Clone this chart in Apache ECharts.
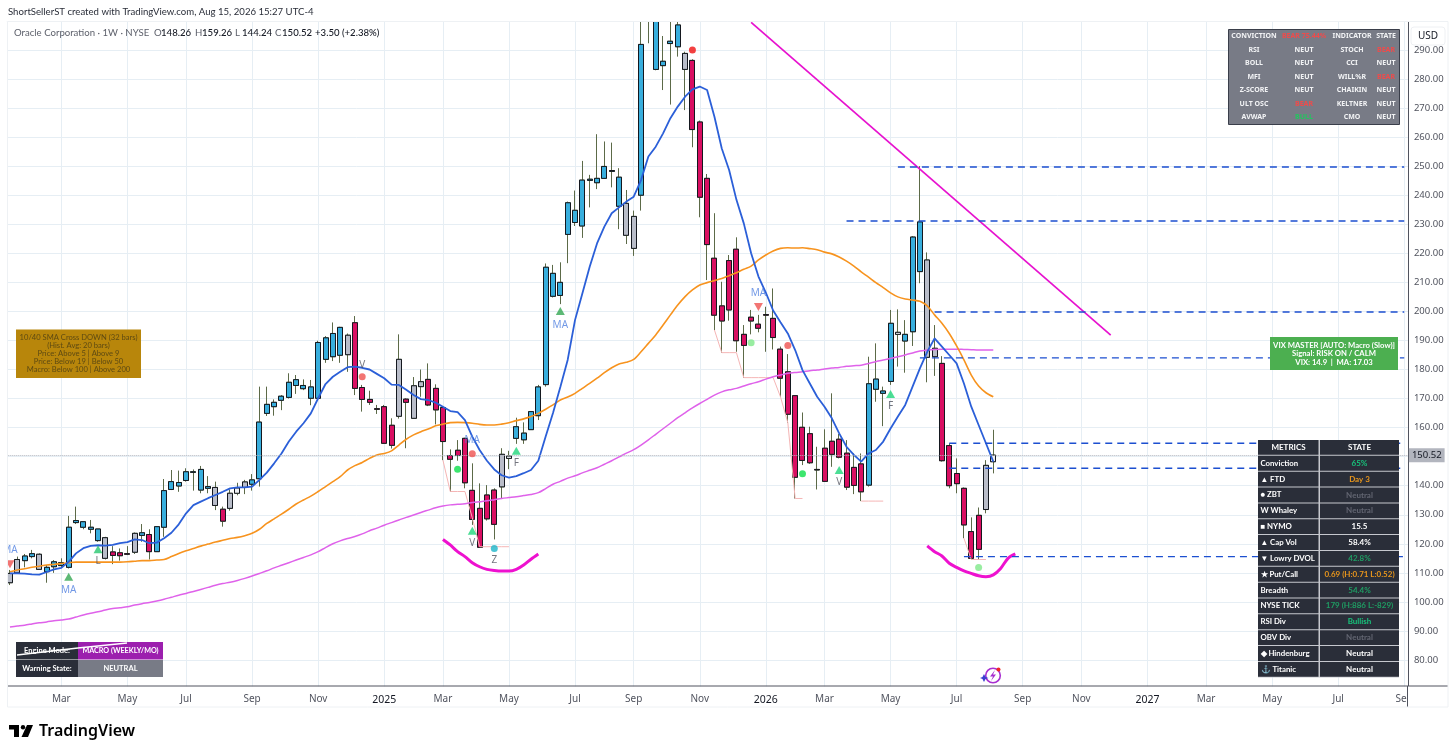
<!DOCTYPE html>
<html><head><meta charset="utf-8">
<style>html,body{margin:0;padding:0;background:#fff}#c{width:1456px;height:755px}</style>
<script src="https://cdn.jsdelivr.net/npm/echarts@6/dist/echarts.min.js"></script>
</head><body><div id="c"></div>
<script>
// ---------- data ----------
const firstWeek = '2024-01-15';
const weekCount = 191;
const tickWeeks = [7,16,24,33,42,51,59,68,77,85,94,103,111,120,129,138,146,155,163,172,181,190];
const tickNames = ['Mar','May','Jul','Sep','Nov','2025','Mar','May','Jul','Sep','Nov','2026','Mar','May','Jul','Sep','Nov','2027','Mar','May','Jul','Sep'];

const bodyTop = [
109.8,114.6,115.8,116.6,116.4,111.9,113.8,113.5,125.7,128,
127.6,125.7,125.1,122.1,117.2,116.9,116.6,123.6,123.8,123.2,
125.9,138.3,141.4,141.1,144.8,144.8,145.6,139.7,139.4,131.9,
137.4,139.2,141.3,142,161.9,168,168.7,170.8,175.6,176.5,
174.5,174,189.3,190.9,192.4,194.5,191.8,196.1,173.8,169.7,
166.5,167.2,160.8,183.5,169.8,174.4,175.8,176.6,173.5,166.9,
150.4,152.2,156.3,138.4,132.2,136.8,138.5,150.8,150.2,160.3,
158.1,165.5,174,215.2,213.1,210,237.4,234.8,245.2,245.5,
245.8,249.9,248.5,246.2,237.2,232.7,291.9,312,306,286.1,
293,298.6,288.8,286.4,265.2,245.8,218.3,201.9,217.5,221.4,
192.1,198,195.6,198.9,197.6,187,179.2,171,160.1,157.9,
145.6,152.9,155.3,156,151.2,146.3,147.5,175.1,176.7,172.6,
195.9,192.8,192.1,225.6,230.8,217.7,187.3,182.1,153.8,144.2,
139.1,124.2,129.8,147,150.52];
const bodyBottom = [
106.6,110,114.2,115.6,111.2,110.4,112.1,112.5,111.9,127.3,
125.7,125,121.1,115,116,115.9,116.4,117.1,122.9,117.3,
117.3,125.7,138.7,139.9,141.8,144.6,138.5,139.1,133.2,127.8,
132.2,137.4,139.4,140.5,142.4,164.9,167.2,169.4,170.4,174.5,
173.4,170.1,170.1,183.5,184.4,184.9,185.1,173.5,169.7,168.7,
166.3,154.6,153.9,163.9,168.7,163.2,174.1,167.8,166.1,155.2,
149.1,150.4,141,128.4,118.8,128.6,126.7,139.6,149.4,156.3,
155.8,159.3,164.1,174.8,205.2,205.5,226.5,230.6,229.4,245.1,
244.3,245.8,248.2,236.2,226.2,221.7,240,303,283.3,284.6,
292.2,291.1,283.3,262.6,239.3,223,198.7,196.7,200.5,189.9,
188.3,196.7,194.2,198.7,191,177,164.6,142.9,148.7,147.9,
145.4,141.5,150.8,149.8,139.5,140.1,137.9,140.2,173.2,171.8,
175.9,192.1,189.8,193,213.7,184.2,184.4,148.6,140,140.7,
126.5,115,118.1,131.8,148.26];
const highs = [
111,115.6,116.5,117.9,116.7,112.7,114.4,115,129.6,132.8,
127.6,128.2,125.1,122.4,119.2,118.4,119.2,123.9,126.8,125,
126.1,142.3,145.4,145.2,146,145.6,146.8,143.3,141.4,132.8,
138.7,141,142,144,174.1,174.1,169.7,171.2,178.7,178.1,
176.6,176.4,189.9,191.5,196.2,194.7,192.4,198.4,174.7,172.7,
167.8,167.8,163.2,192.1,170.1,177.4,180,182.1,174.9,167.2,
152.5,155.7,156.5,147.7,140.8,140.2,139.1,152.9,152,163.4,
161.8,165.7,174.7,216.5,216,216.9,237.8,241.6,251.8,247,
261,258.5,258.1,249.3,241.8,234.7,306,318,312,294.8,
300,300,289.4,286.8,265.7,247.3,233.8,210.2,219.4,225.5,
195.3,200.5,198.8,201.6,207.9,187.9,185.3,171.2,165.2,160.3,
153.4,159.4,171.8,157.8,155.7,151.1,151.1,184.4,189,174.1,
200.5,200.7,197,225.9,250,220.3,195.3,184.6,154.6,149.4,
139.4,129.1,132.5,148.8,159.26];
const lows = [
105.8,109.8,111.9,115,111,106.6,110,111.9,111.5,126.8,
125,123.6,120.7,114.6,113,114.2,116.1,116.5,120.7,114.6,
117.3,122.4,138.5,137.9,141.4,138.3,137.4,137.4,131.6,125.9,
131.4,136.7,137.1,138.3,139.7,164,164.1,166,170,171.6,
172.9,167.7,169.7,182.3,182.9,182.3,179.2,171.2,165.5,167.8,
164.7,154.4,152.8,163.1,152.9,163.1,170.6,167.4,161.1,148.8,
137.9,148.6,139.1,126.5,118.8,128,121.5,135.6,145.7,154.4,
154.4,159.2,162.6,174.1,204.8,202.5,216.6,229.4,225.3,235.8,
242.1,245.6,242.7,228.3,223.2,219.1,234.7,292.3,283,276.2,
271.2,287.7,269.3,256.5,232.4,210.8,193.6,185.8,196.8,186.1,
177.2,192.1,192.8,186.1,186.9,170.6,161.7,135.6,147.1,147.5,
138.7,141.3,146.5,149.4,138.5,137.1,134.7,139.7,168.9,160.5,
174.7,181,178.9,188.1,209.7,175.6,177.8,148.3,139.1,137.4,
121.9,114.6,114.6,130.5,144.24];
// B blue, R crimson, G grey, W pale
const candleKinds = ('GGBBGBBBBB'+'BBBGRRRGBR'+'BBBBBBBBGR'+'GWGBBBBBBB'+'BBBBBBGRRR'+
 'RRRGRGGRRR'+'RRRRRRRGWB'+'BBBBBBBBBB'+'BBBBGGBBBB'+'BBGRRRRRRR'+
 'RRRRRRRRRR'+'RRRRRRRBBB'+'BWBBBGGRRR'+'RRRGW').split('');

const ma10 = [
109.8,109.8,109.7,109.5,109.4,110.3,111.2,111.7,113.8,116.7,
118.5,119.3,119.5,119.4,119.6,120.2,120.6,121.5,121.3,120.2,
120.4,121.9,123.8,126.7,130.5,133.3,134.5,135.7,136.8,137.9,
139.1,139.4,139.4,139.7,142,144.5,147.7,151.1,155.2,158.6,
161.5,164.9,170.1,175,177.5,179.2,180.8,181,180.6,180,
178.5,177,174.8,174.7,173,171.2,169.8,169.5,168.6,167.2,
165.7,165.3,162.6,156.9,152.3,148.6,145.6,143.6,142.8,143.3,
144.3,145.4,148.6,156.9,165,174,183.3,197,206.2,215.4,
223.4,229.2,233.8,235.8,237.8,239.5,245.2,253.3,256.7,261.3,
266.5,270.5,273.9,276.4,277.4,276.2,267,256.1,248.7,238.4,
230.3,220,212,206.5,200.3,196.3,192.4,186.7,179.8,175.2,
170.6,167.2,163.2,158,153.4,150.6,148.3,151.1,152.3,155.2,
159.7,163.8,167.8,174.1,180.4,186.1,190.7,187.9,185,182.1,
175.2,167.2,160.9,154.6,148.3];
const ma40 = [
110.4,111,111.4,111.9,112.3,112.7,112.9,113.2,113.5,113.7,
113.7,113.7,113.7,113.7,113.7,113.7,113.8,114,114.2,114.2,
114.4,114.6,115.6,116.7,117.6,118.4,119.2,119.9,120.6,121.2,
121.8,122.2,122.8,123.6,125,127,128.6,130.2,131.9,133.7,
135.1,136.4,138,139.7,141.4,143.1,145.4,146.9,148,149.4,
150.6,151.1,152,154,156,157.5,158.6,159.5,160.6,161.2,
161.7,161.8,161.7,161.5,161.1,160.9,160.9,161.2,161.7,162.4,
163,163.8,164.9,166.3,167.8,169.5,170.5,171.8,173.5,175.2,
177,178.9,180.6,181.9,182.5,183.5,186.1,189,191.9,195.3,
198.8,202.2,205.1,207.4,209.1,209.9,210.6,211.3,212.3,213.3,
214.5,215.6,217.7,219.4,220.8,221.7,221.9,221.8,221.9,221.6,
221.2,220.4,219.8,218.7,217.3,215.6,213.6,211.8,209.9,208.2,
206.4,205,204.3,203.9,203.5,201.9,198.8,195.9,192.4,188.1,
183.3,178.1,174.3,172,170.6];
const ma200 = [
91.4,91.7,92,92.4,92.8,93.1,93.5,93.8,94.1,94.8,
95.5,96.1,96.6,97.2,97.7,98,98.3,98.9,99.4,99.8,
100.3,100.9,101.6,102.3,102.9,103.6,104.3,105,105.7,106.3,
106.8,107.4,108.1,108.9,109.8,110.7,111.7,112.6,113.5,114.4,
115.3,116.2,117.3,118.7,120,121,121.8,122.5,123.4,124.5,
125.4,126.4,127.3,128.2,129.1,129.9,130.8,131.6,132.4,133,
133.4,133.6,133.8,134.2,134.5,134.8,135.2,135.6,135.9,136.2,
136.6,137,137.6,139,140.5,141.5,142.6,143.4,144.4,145.3,
146.2,147.4,148.6,149.9,151.2,152.4,154,155.8,157.7,159.6,
161.5,163.4,165.1,166.8,168.3,169.7,171.2,172.3,173,173.5,
174.3,175.1,175.8,176.7,177.5,178.1,178.7,179,179.2,179.6,
179.8,180.2,180.5,180.7,181.1,181.3,181.5,182.1,182.7,183.3,
183.8,184.4,185,185.7,186.4,186.7,186.9,187,187,187,
186.9,186.8,186.7,186.7,186.7];

const swingLowWeeks  = [59,60,61,62,63,64,65,66,67,68, 96,97,98,99,100,101,102,103,104,105,106,107,108,116,117,118,119, 130,131,132,133];
const swingLowValues = [148.8,138,138,138,129,119,119,119,119,119, 193.6,185.8,185.8,185.8,177.2,177.2,177.2,177.2,177.2,170.6,161.7,135.6,135.6,134.7,134.7,134.7,134.7, 121.9,114.6,114.6,114.6];

const trendWeeks = [101,150];
const trendValues = [299.5,191.8];

const smileOneStart = 59;
const smileOne = [121.5,119.6,117.3,115.6,113.5,112.1,111.2,110.8,110.6,110.6,111.2,112.7,114.7,116.5];
const smileTwoStart = 125;
const smileTwo = [119.3,117.3,115.8,113.3,111.9,110.7,109.8,109,108.7,109.3,111.5,115,116.5];

const levelStarts = [121,114,126,124,128,128,130];
const levelValues = [249.7,231.1,199.8,184,154.6,146,115.6];
const lastClose = 150.52;

const upMarkWeeks  = [8,12,63,69,75,113,120];
const upMarkValues = [108.7,118.1,124.5,152,200.1,145.4,171.6];
const upMarkText   = ['MA','L','V','F','MA','V','F'];
const upMarkColors = ['#35a853','#28c76f','#1fd67a','#1fd67a','#35a853','#1fd67a','#1fd67a'];
const downMarkWeeks  = [0,102];
const downMarkValues = [113,201.5];
const dotWeeks  = [48,63,61,66,93,101,106,108,132];
const dotValues = [177.5,151,145.7,118.4,290,189.2,188.3,144.1,111.8];
const dotColors = ['#ef5350','#ef5350','#0ce04a','#1cb5c9','#f01010','#7fe88a','#ef5350','#0ce04a','#7fe88a'];
const dotText   = ['V','MA','','Z','','','','',''];

const gaugeRows = [
 ['CONVICTION','BEAR 75.44%','INDICATOR','STATE'],
 ['RSI','NEUT','STOCH','BEAR'],
 ['BOLL','NEUT','CCI','NEUT'],
 ['MFI','NEUT','WILL%R','BEAR'],
 ['Z-SCORE','NEUT','CHAIKIN','NEUT'],
 ['ULT OSC','BEAR','KELTNER','NEUT'],
 ['AVWAP','BULL','CMO','NEUT']];
const metricRows = [
 ['METRICS','STATE','#fff'],
 ['Conviction','65%','#17c37b'],
 ['▲ FTD','Day 3','#e8961c'],
 ['● ZBT','Neutral','#636672'],
 ['W Whaley','Neutral','#636672'],
 ['■ NYMO','15.5','#fff'],
 ['▲ Cap Vol','58.4%','#fff'],
 ['▼ Lowry DVOL','42.8%','#1f9d63'],
 ['★ Put/Call','0.69 (H:0.71 L:0.52)','#e8961c'],
 ['Breadth','54.4%','#1f9d63'],
 ['NYSE TICK','179 (H:886 L:-829)','#1f9d63'],
 ['RSI Div','Bullish','#17c37b'],
 ['OBV Div','Neutral','#636672'],
 ['◆ Hindenburg','Neutral','#fff'],
 ['⚓ Titanic','Neutral','#fff']];
const crossLines = ['10/40 SMA Cross DOWN (32 bars)','(Hist. Avg: 20 bars)','Price: Above 5 | Above 9','Price: Below 19 | Below 50','Macro: Below 100 | Above 200'];
const vixLines = ['VIX MASTER [AUTO: Macro (Slow)]','Signal: RISK ON / CALM','VIX: 14.9  |  MA: 17.03'];
const quoteParts = [['O','148.26',154],['H','159.26',195],['L','144.24',235],['C','150.52',275]];

// ---------- build ----------
const FONT = '"Noto Sans", sans-serif';
const LATO = 'Lato, sans-serif';
const start = Date.parse(firstWeek + 'T00:00:00Z');
const categories = [];
for (let w = 0; w < weekCount; w++) categories.push(new Date(start + w * 7 * 864e5).toISOString().slice(0, 10));
const tickMap = {}; tickWeeks.forEach((w, i) => { tickMap[w] = tickNames[i]; });

const fills = {B:'#38aedd', R:'#d90f62', G:'#b9bdc9', W:'#eef0f4'};
const wickData = [], bodyData = [];
bodyTop.forEach((t, i) => {
  const b = bodyBottom[i], k = fills[candleKinds[i]];
  wickData.push([b, t, lows[i], highs[i]]);
  bodyData.push({value:[b, t, b, t], itemStyle:{color:k, color0:k, borderColor:'#14181f', borderColor0:'#14181f', borderColorDoji:'#14181f', borderWidth:1}});
});
const zip = (s, a) => a.map((v, i) => [s + i, v]);
const swingData = categories.map(() => null);
swingLowWeeks.forEach((w, i) => { swingData[w] = swingLowValues[i]; });

const line = (name, data, color, width, extra) => Object.assign({
  name, type:'line', data, symbol:'none', silent:true, clip:true, animation:false,
  lineStyle:{color, width}, connectNulls:false
}, extra || {});

const markerLabel = (text, color, pos) => text ? {show:true, formatter:text, position:pos, distance:text === 'MA' ? 5 : 3, color, fontFamily:FONT, fontSize:10} : {show:false};
const textColor = t => t === 'MA' ? '#4f7fe0' : '#50535e';
const upData = upMarkWeeks.map((w, i) => ({value:[w, upMarkValues[i]], itemStyle:{color:upMarkColors[i]}, label:markerLabel(upMarkText[i], textColor(upMarkText[i]), 'bottom')}));
const downData = downMarkWeeks.map((w, i) => ({value:[w, downMarkValues[i]], label:markerLabel('MA', '#4f7fe0', 'top')}));
const dotData = dotWeeks.map((w, i) => ({value:[w, dotValues[i]], itemStyle:{color:dotColors[i]}, label:markerLabel(dotText[i], textColor(dotText[i]), dotText[i] === 'Z' ? 'bottom' : 'top')}));

const levelSeries = levelValues.map((v, i) => line('Level ' + v, [[levelStarts[i], v], [weekCount - 1, v]], '#1c4fd0', 1.4, {lineStyle:{color:'#1c4fd0', width:1.4, type:[7, 5]}}));

// ---------- overlay panels ----------
const Z = 50, els = [];
const rect = (x, y, w, h, fill, stroke, z) => els.push({type:'rect', silent:true, z:z || Z, shape:{x, y, width:w, height:h}, style:{fill, stroke:stroke || null, lineWidth:1}});
const txt = (x, y, text, o) => els.push({type:'text', silent:true, z:(o && o.z) || Z + 1, style:Object.assign({x, y, text, fill:'#fff', font:'8px ' + LATO, align:'center', verticalAlign:'middle'}, o || {})});
const seg = (x1, y1, x2, y2, stroke, w, z) => els.push({type:'line', silent:true, z:z || Z, shape:{x1, y1, x2, y2}, style:{stroke, lineWidth:w}});

// masks and frame
rect(0, 0, 1456, 21.5, '#fff', null, 8);
rect(0, 21.5, 7.5, 700, '#fff', null, 8);
rect(8, 686.5, 1440, 3.4, '#fff', null, 8);
rect(1408, 686, 40, 22, '#fff', null, 9);
seg(8, 686, 1448, 686, '#50535e', 1, 10);
seg(1407.5, 686, 1407.5, 707, '#50535e', 1, 10);
rect(7.5, 21.5, 1440.5, 685.5, null, '#eef1f4', 10);

// header
txt(8, 11.5, 'ShortSellerST created with TradingView.com, Aug 15, 2026 15:27 UTC-4', {align:'left', font:'9.6px ' + LATO, fill:'#2a2e39'});
txt(14, 33, 'Oracle Corporation · 1W · NYSE', {align:'left', font:'9.6px ' + LATO, fill:'#5d606b'});
quoteParts.forEach(q => {
  txt(q[2], 33, q[0], {align:'left', font:'9.6px ' + LATO, fill:'#5d606b'});
  txt(q[2] + 7, 33, q[1], {align:'left', font:'500 9.6px ' + LATO, fill:'#131722'});
});
txt(315, 33, '+3.50 (+2.38%)', {align:'left', font:'500 9.6px ' + LATO, fill:'#131722'});

// USD button
els.push({type:'rect', silent:true, z:Z, shape:{x:1411, y:27, width:34, height:18, r:3}, style:{fill:'#fff', stroke:'#eef0f3'}});
txt(1428, 36, 'USD', {font:'10px ' + FONT, fill:'#131722'});

// gauge panel
rect(1228.5, 29.5, 171, 95, '#787b86', '#3a3e4a');
const gaugeX = [1254, 1304, 1352, 1386];
gaugeRows.forEach((row, r) => row.forEach((t, c) => {
  const fill = /^BEAR/.test(t) ? '#ef4b4b' : t === 'BULL' ? '#22c55e' : '#f2f3f5';
  txt(gaugeX[c], 36 + r * 13.53, t, {font:'bold 7px ' + FONT, fill});
}));

// metric table
rect(1258, 440, 141, 237.5, '#c6c8ce');
metricRows.forEach((row, r) => {
  const y = 440 + r * 15.85;
  rect(1258, y, 60.5, 14.85, '#2a2e39');
  rect(1320, y, 79, 14.85, '#2a2e39');
  if (r === 0) txt(1288.5, y + 7.4, row[0], {font:'bold 8px ' + LATO});
  else txt(1260.5, y + 7.4, row[0], {font:'bold 7.8px ' + LATO, align:'left'});
  txt(1359.5, y + 7.4, row[1], {font:'bold 8px ' + LATO, fill:row[2]});
});

// cross box
rect(16, 329.5, 125, 48.5, '#b8860b');
crossLines.forEach((t, i) => txt(78.5, 337.8 + i * 8, t, {font:'7.6px ' + LATO, fill:'#5e4a12'}));

// vix box
rect(1270, 337, 128, 33, '#4caf50');
vixLines.forEach((t, i) => txt(1334, 345.5 + i * 8.5, t, {font:'bold 7.7px ' + LATO}));

// engine table
rect(16, 642, 62, 17.5, '#2a2e39');
rect(16, 660, 62, 17, '#2a2e39');
rect(78, 642, 85, 17.5, '#9c1fae');
rect(78, 660, 85, 17, '#787b86');
txt(47, 651, 'Engine Mode:', {font:'bold 7.5px ' + LATO});
txt(47, 669, 'Warning State:', {font:'bold 7.5px ' + LATO});
txt(120.5, 651, 'MACRO (WEEKLY/MO)', {font:'bold 7.2px ' + LATO});
txt(120.5, 669, 'NEUTRAL', {font:'bold 7.5px ' + LATO});
seg(17, 655, 78, 648, '#fff', 1.5, Z + 2);
seg(78, 648, 127, 643, '#fff', 1.5, Z + 2);

// sparkle badge
els.push({type:'circle', silent:true, z:Z, shape:{cx:993, cy:675.5, r:7.3}, style:{fill:null, stroke:'#a82fd0', lineWidth:1.6}});
els.push({type:'polygon', silent:true, z:Z, shape:{points:[[995,670],[990,676.5],[993,676.5],[991,681],[996,674.5],[993,674.5]]}, style:{fill:'#a82fd0'}});
els.push({type:'circle', silent:true, z:Z, shape:{cx:998.5, cy:669.5, r:2}, style:{fill:'#f02525'}});
els.push({type:'polygon', silent:true, z:Z, shape:{points:[[984,674],[985.5,677],[988.5,678],[985.5,679],[984,682],[982.5,679],[980,678],[982.5,677]]}, style:{fill:'#3a3fd0'}});

// TradingView mark
els.push({type:'polygon', silent:true, z:Z, shape:{points:[[9,725],[19,725],[19,737],[14,737],[14,729.5],[9,729.5]]}, style:{fill:'#000'}});
els.push({type:'circle', silent:true, z:Z, shape:{cx:23, cy:727.2, r:2.2}, style:{fill:'#000'}});
els.push({type:'polygon', silent:true, z:Z, shape:{points:[[27,725],[33,725],[28,737],[21.5,737]]}, style:{fill:'#000'}});
txt(39, 731, 'TradingView', {align:'left', font:'600 16px ' + FONT, fill:'#000'});

// ---------- chart ----------
const chart = echarts.init(document.getElementById('c'), null, {renderer:'canvas'});
chart.setOption({
  animation:false,
  backgroundColor:'#fff',
  tooltip:{show:false},
  grid:{left:6.3, right:48.1, top:20.9, height:668.15, containLabel:false},
  xAxis:{
    type:'category', data:categories, boundaryGap:true, offset:-3,
    axisLine:{show:false}, axisTick:{show:false},
    splitLine:{show:true, alignWithLabel:true, interval:(i) => tickMap[i] !== undefined, lineStyle:{color:'#e6eef4', width:1}},
    axisLabel:{
      interval:(i) => tickMap[i] !== undefined, margin:8, hideOverlap:false, showMaxLabel:true,
      color:'#50535e', fontFamily:FONT, fontSize:10,
      formatter:(v, i) => { const n = tickMap[i]; return /^\d/.test(n || '') ? '{y|' + n + '}' : (n || ''); },
      rich:{y:{color:'#131722', fontFamily:FONT, fontSize:10.5}}
    }
  },
  yAxis:{
    type:'value', position:'right', min:70, max:300, interval:10,
    axisLine:{show:true, lineStyle:{color:'#50535e', width:1}}, axisTick:{show:false},
    splitLine:{show:true, lineStyle:{color:'#e6eef4', width:1}},
    axisLabel:{margin:6, color:'#50535e', fontFamily:FONT, fontSize:9.5,
      formatter:(v) => (v < 80 || v > 290 || v === 150) ? '' : v.toFixed(2)}
  },
  graphic:{elements:els},
  series:[
    line('Swing low', swingData, '#f5b5b5', 1),
    {name:'Wicks', type:'candlestick', data:wickData, barWidth:5.5, clip:true, silent:true,
     itemStyle:{color:'#5c6a48', color0:'#5c6a48', borderColor:'#5c6a48', borderColor0:'#5c6a48', borderColorDoji:'#5c6a48', borderWidth:1}},
    {name:'Bodies', type:'candlestick', data:bodyData, barWidth:5.5, clip:true, silent:true},
    line('SMA 200', ma200, '#df62ea', 1.5, {smooth:0.3}),
    line('SMA 40', ma40, '#f7931e', 1.6, {smooth:0.3}),
    line('SMA 10', ma10, '#2b5fd8', 1.8),
    line('Trend', trendWeeks.map((w, i) => [w, trendValues[i]]), '#e712cf', 1.7),
    line('Smile A', zip(smileOneStart, smileOne), '#ee11cf', 3, {smooth:0.3}),
    line('Smile B', zip(smileTwoStart, smileTwo), '#ee11cf', 3, {smooth:0.3}),
    ...levelSeries,
    {name:'Last', type:'line', data:[], silent:true,
     markLine:{silent:true, symbol:'none', animation:false,
       lineStyle:{color:'#b2b5be', type:'dotted', width:1},
       label:{show:true, position:'end', formatter:lastClose.toFixed(2), backgroundColor:'#b2b5be', color:'#131722', fontFamily:FONT, fontSize:9.5, padding:[2, 3], distance:1},
       data:[{yAxis:lastClose}]}},
    {name:'Up marks', type:'scatter', data:upData, symbol:'triangle', symbolSize:[9, 8], silent:true, z:6},
    {name:'Down marks', type:'scatter', data:downData, symbol:'triangle', symbolRotate:180, symbolSize:[9, 8], itemStyle:{color:'#ef5350'}, silent:true, z:6},
    {name:'Dots', type:'scatter', data:dotData, symbol:'circle', symbolSize:7, silent:true, z:6}
  ]
});
</script></body></html>
